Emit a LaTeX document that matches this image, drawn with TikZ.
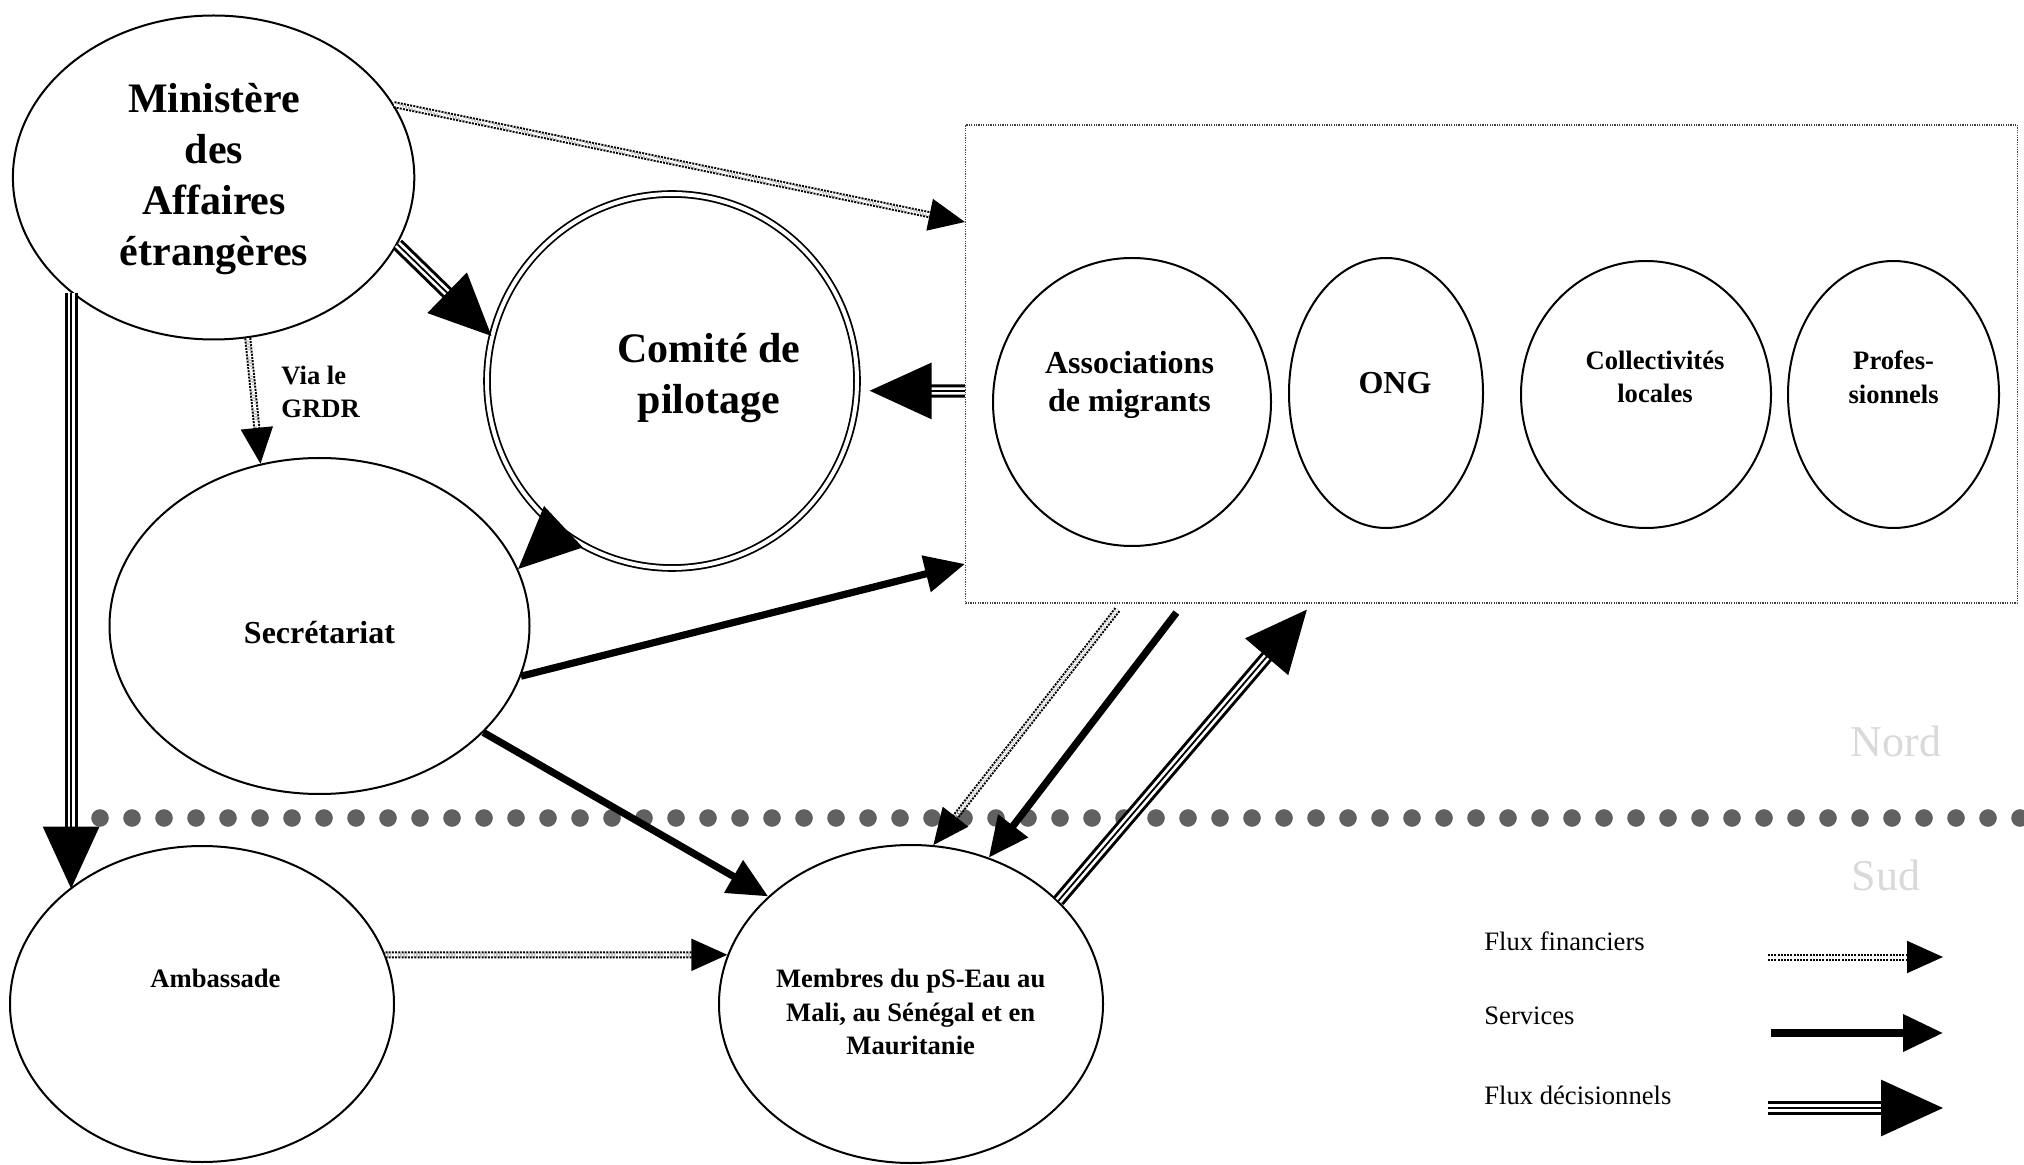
\documentclass[tikz,border=0pt]{standalone}
\usepackage{fontspec}
\setmainfont{Liberation Serif}
\usetikzlibrary{arrows.meta,shapes.geometric,calc}

\begin{document}
\begin{tikzpicture}[x=0.5pt,y=-0.5pt,
  ell/.style={draw, ellipse, line width=1pt, inner sep=0pt},
  txt/.style={align=center, inner sep=0pt},
  fbig/.style={font=\bfseries\fontsize{21}{25.5}\selectfont},
  fmid/.style={font=\bfseries\fontsize{16}{19.4}\selectfont},
  fsmall/.style={font=\bfseries\fontsize{13.3}{16.8}\selectfont},
  flegend/.style={font=\fontsize{13.3}{16}\selectfont, anchor=west, inner sep=0pt},
  fghost/.style={font=\fontsize{22}{26}\selectfont, text=black!15, inner sep=0pt},
  fin/.style={draw=black, line width=1pt, double=white, double distance=1.5pt,
    dash pattern=on 1pt off 0.6pt, -{Triangle[length=18pt,width=16pt,color=black]}},
  serv/.style={draw=black, line width=3.6pt, -{Triangle[length=20pt,width=18pt]}},
  dec/.style={draw=black, line width=1.5pt, double=white, double distance=3.6pt,
    -{Triangle[length=31pt,width=28pt]}},
  decmid/.style={draw=black, line width=0.9pt, shorten >=20pt},
]
\fill[white] (0,0) rectangle (2024,1165);
\useasboundingbox (0,0) rectangle (2024,1165);

% ---- North: actors
\node[ell, minimum width=200.7pt, minimum height=162pt] (mae) at (213.6,177.5) {};
\node[txt, fbig] (mae-t) at (214,179) {Ministère\\des\\Affaires\\étrangères};

\node[ell, double, line width=0.9pt, double distance=2pt,
      minimum width=185pt, minimum height=187pt] (com) at (672,381) {};
\node[txt, fbig] (com-t) at (709,378) {Comité de\\pilotage};

\node[ell, minimum width=210pt, minimum height=168pt] (sec) at (319.5,626) {};
\node[txt, fmid] (sec-t) at (319.5,633) {Secrétariat};

\node[txt, fsmall, align=left, anchor=west] (via) at (281,392) {Via le\\GRDR};

% ---- the group of northern partners
\node[draw=black!75, line width=0.6pt, dash pattern=on 0.6pt off 0.6pt,
      minimum width=526pt, minimum height=239pt, inner sep=0pt] (box) at (1491.5,364) {};
\node[ell, minimum width=139pt, minimum height=144pt] (asso) at (1132,402) {};
\node[txt, fmid] (asso-t) at (1129.5,385) {Associations\\de migrants};
\node[ell, minimum width=97pt, minimum height=135pt] (ong) at (1386,393) {};
\node[txt, fmid] (ong-t) at (1395,383) {ONG};
\node[ell, minimum width=125pt, minimum height=133.5pt] (coll) at (1646,394.5) {};
\node[txt, fsmall] (coll-t) at (1655,377) {Collectivités\\locales};
\node[ell, minimum width=105.5pt, minimum height=133.5pt] (pro) at (1893.5,394.5) {};
\node[txt, fsmall] (pro-t) at (1893.6,377) {Profes-\\sionnels};

% ---- North / South divide
\foreach \i in {0,...,60}
  \fill[black!62] ({100+32*\i},818) circle (4.4pt);
\node[fghost] (nord) at (1896,741) {Nord};
\node[fghost] (sud) at (1886,875) {Sud};

% ---- South: actors
\node[ell, minimum width=192pt, minimum height=158pt] (amb) at (202,1004) {};
\node[txt, fsmall] (amb-t) at (215.5,978) {Ambassade};
\node[ell, minimum width=192pt, minimum height=159pt] (mem) at (911,1004) {};
\node[txt, fsmall] (mem-t) at (910.7,1012) {Membres du pS-Eau au\\Mali, au Sénégal et en\\Mauritanie};

% ---- financial flows
\draw[fin] (mae.22) -- ($(box.west)+(0,-142)$);
\draw[fin] (mae.-78) -- (sec.110);
\draw[fin] ($(box.south west)+(152.5,6)$) -- (mem.82);
\draw[fin] (amb.15) -- (mem.165);

% ---- services
\draw[serv] (sec.-14) -- ($(box.west)+(0,200)$);
\draw[serv] (sec.-33) -- (mem.143);
\draw[serv] ($(box.south west)+(211.5,9)$) -- (mem.62);

% ---- decision flows
\draw[dec] (mae.-20) -- (com.166);
\draw[decmid] (mae.-20) -- (com.166);
\draw[dec] (mae.-141) -- (mae.-141 |- amb.139);
\draw[decmid] (mae.-141) -- (mae.-141 |- amb.139);
\draw[dec, shorten >=6pt] ($(box.west)+(0,27)$) -- (com.-3);
\draw[decmid, shorten >=26pt] ($(box.west)+(0,27)$) -- (com.-3);
\draw[dec] (com.-127) -- (sec.16);
\draw[decmid] (com.-127) -- (sec.16);
\draw[dec] (mem.35) -- ($(box.south west)+(342,6)$);
\draw[decmid] (mem.35) -- ($(box.south west)+(342,6)$);

% ---- legend
\node[flegend] (lg-fin) at (1484,941) {Flux financiers};
\node[flegend] (lg-serv) at (1484,1016) {Services};
\node[flegend] (lg-dec) at (1484,1095) {Flux décisionnels};
\coordinate (lf-a) at (1768,957);  \coordinate (lf-b) at (1943,957);
\coordinate (ls-a) at (1771,1033); \coordinate (ls-b) at (1943,1033);
\coordinate (ld-a) at (1768,1108); \coordinate (ld-b) at (1943,1108);
\draw[fin] (lf-a) -- (lf-b);
\draw[serv] (ls-a) -- (ls-b);
\draw[dec] (ld-a) -- (ld-b);
\draw[decmid] (ld-a) -- (ld-b);
\end{tikzpicture}
\end{document}
